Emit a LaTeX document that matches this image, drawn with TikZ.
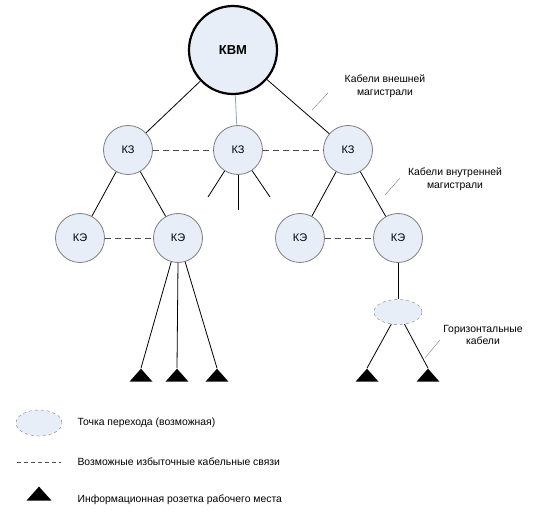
\documentclass[tikz,border=0pt]{standalone}
\usepackage{fontspec}
\setmainfont{Liberation Sans}
\usetikzlibrary{shapes.geometric}

\definecolor{nodefill}{HTML}{E8EEF8}
\definecolor{nodeline}{HTML}{7F7F7F}
\definecolor{midline}{HTML}{8FA3BF}

\begin{document}
\begin{tikzpicture}
[
	x=1pt, y=-1pt,
	every node/.style={font=\fontsize{10.4}{12.5}\selectfont},
	bignode/.style={circle,draw=black,line width=2.2pt,fill=nodefill,inner sep=0pt,minimum size=88pt,font=\fontsize{13}{15}\selectfont\bfseries},
	hub/.style={circle,draw=nodeline,thick,fill=nodefill,inner sep=0pt,minimum size=49pt,font=\fontsize{11}{13}\selectfont},
	tpoint/.style={ellipse,draw=nodeline,dashed,fill=nodefill,inner sep=0pt,minimum width=48pt,minimum height=25pt},
	outlet/.style={isosceles triangle,isosceles triangle stretches,shape border rotate=90,fill=black,inner sep=0pt,minimum width=23pt,minimum height=13pt},
	cable/.style={draw=black,thick},
	spare/.style={draw=black!70,thick,dash pattern=on 6pt off 4pt},
	pointer/.style={draw=gray,thin},
	caption/.style={align=center}
]

	\useasboundingbox (0,0) rectangle (542,524);

	% nodes
	\node[bignode] (kvm) at (233,50) {КВМ};

	\node[hub] (kz1) at (128,150) {КЗ};
	\node[hub] (kz2) at (238,150) {КЗ};
	\node[hub] (kz3) at (348,150) {КЗ};

	\node[hub] (ke1) at (80,238) {КЭ};
	\node[hub] (ke2) at (178,238) {КЭ};
	\node[hub] (ke3) at (300,238) {КЭ};
	\node[hub] (ke4) at (398,238) {КЭ};

	\node[tpoint] (tp) at (398,312) {};

	\node[outlet] (o1) at (141,376.5) {};
	\node[outlet] (o2) at (177,376.5) {};
	\node[outlet] (o3) at (217,376.5) {};
	\node[outlet] (o4) at (367,376.5) {};
	\node[outlet] (o5) at (428,376.5) {};

	% free ends under the middle hub
	\coordinate (f1) at (208,197);
	\coordinate (f2) at (238,210);
	\coordinate (f3) at (270,197);

	% backbone cables
	\draw[cable] (kvm) -- (kz1);
	\draw[draw=midline,thick] (kvm) -- (kz2);
	\draw[cable] (kvm) -- (kz3);
	\draw[cable] (kz2) -- (f1);
	\draw[cable] (kz2) -- (f2);
	\draw[cable] (kz2) -- (f3);

	\draw[cable] (kz1) -- (ke1);
	\draw[cable] (kz1) -- (ke2);
	\draw[cable] (kz3) -- (ke3);
	\draw[cable] (kz3) -- (ke4);

	% redundant links
	\draw[spare] (kz1) -- (kz2);
	\draw[spare] (kz2) -- (kz3);
	\draw[spare] (ke1) -- (ke2);
	\draw[spare] (ke3) -- (ke4);

	% horizontal cables
	\draw[cable] (ke2) -- (o1.apex);
	\draw[cable] (ke2.south) -- (o2.apex);
	\draw[cable] (ke2) -- (o3.apex);
	\draw[cable] (ke4) -- (tp);
	\draw[cable] (tp) -- (o4.apex);
	\draw[cable] (tp) -- (o5.apex);

	% labels
	\node[caption] (lext) at (385,86) {Кабели внешней\\магистрали};
	\node[caption] (lint) at (455,179) {Кабели внутренней\\магистрали};
	\node[caption] (lhor) at (483,335) {Горизонтальные\\кабели};
	\coordinate (p1) at (312,110);
	\coordinate (p2) at (328,93);
	\coordinate (p3) at (385,195);
	\coordinate (p4) at (400,178);
	\coordinate (p5) at (425,358);
	\coordinate (p6) at (440,340);
	\draw[pointer] (p1) -- (p2);
	\draw[pointer] (p3) -- (p4);
	\draw[pointer] (p5) -- (p6);

	% legend
	\node[tpoint,minimum width=46pt,minimum height=26pt] (ltp) at (39,423) {};
	\node[anchor=west] (ttp) at (74,423) {Точка перехода (возможная)};
	\coordinate (d1) at (17,462);
	\coordinate (d2) at (61,462);
	\draw[draw=black!70,dash pattern=on 4pt off 3pt] (d1) -- (d2);
	\node[anchor=west] (tsp) at (74,462) {Возможные избыточные кабельные связи};
	\node[outlet,minimum width=25pt,minimum height=14pt] (lo) at (39,495) {};
	\node[anchor=west] (tout) at (74,500) {Информационная розетка рабочего места};

\end{tikzpicture}
\end{document}
